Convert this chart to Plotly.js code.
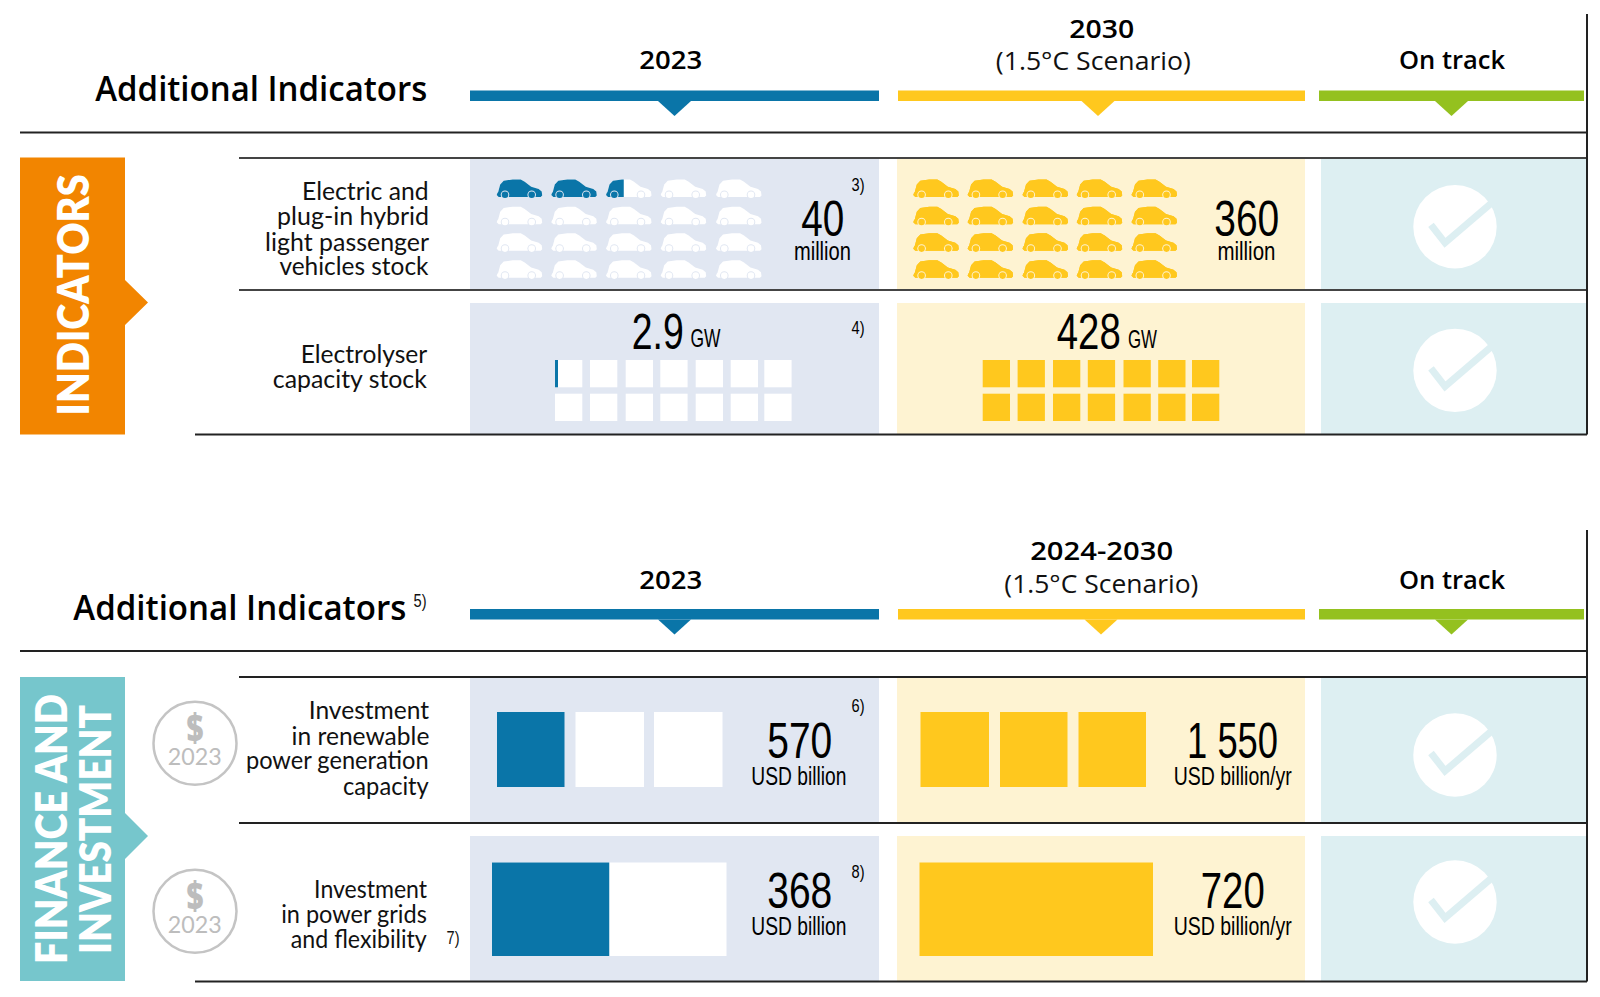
<!DOCTYPE html>
<html><head><meta charset="utf-8">
<script src="https://cdn.plot.ly/plotly-3.0.1.min.js"></script>
<style>html,body{margin:0;padding:0;background:#fff}#c{width:1600px;height:997px}</style>
</head><body><div id="c"></div>
<script>
// ---------- data ----------
const categories = ["Electric and plug-in hybrid light passenger vehicles stock","Electrolyser capacity stock","Investment in renewable power generation capacity","Investment in power grids and flexibility"];
const value2023 = ["40","2.9","570","368"];
const value2030 = ["360","428","1 550","720"];
const unit2023 = ["million","GW","USD billion","USD billion"];
const unit2030 = ["million","GW","USD billion/yr","USD billion/yr"];
const notes = ["3)","4)","6)","8)"];
const totalIcons = [20,14,3,1];        // icons per row
const filled2023 = [2.39,0.11,1,0.5];  // icons filled in the 2023 panel
const filled2030 = [20,14,3,1];        // icons filled in the 2030 panel

// ---------- styles / layout constants ----------
const BLUE='#0A75A8',YEL='#FFC81E',GRN='#94C11F',ORG='#F28500',TEALTAB='#76C6CC';
const PB='#E1E7F2',PY='#FEF3D2',PT='#DDEFF2',DK='#222222';
const SANS='"Open Sans", sans-serif', LAB='Lato, sans-serif', NAR='"Liberation Sans", sans-serif';
const shapes=[],ann=[],traces=[],widths=[];

function rect(x0,x1,y0,y1,c){shapes.push({type:'rect',xref:'x',yref:'y',x0,x1,y0,y1,fillcolor:c,line:{width:0},layer:'below'});}
function hline(x0,x1,y,c,w){shapes.push({type:'line',xref:'x',yref:'y',x0,x1,y0:y,y1:y,line:{color:c||DK,width:w||2}});}
function vline(x,y0,y1){shapes.push({type:'line',xref:'x',yref:'y',x0:x,x1:x,y0,y1,line:{color:DK,width:2}});}
function poly(p,c,layer){shapes.push({type:'path',xref:'x',yref:'y',path:'M'+p.map(q=>q[0].toFixed(2)+','+q[1].toFixed(2)).join('L')+'Z',fillcolor:c,line:{width:0},layer:layer||'above'});}
function circ(cx,cy,r,fill,lc,lw){shapes.push({type:'circle',xref:'x',yref:'y',x0:cx-r,x1:cx+r,y0:cy-r,y1:cy+r,fillcolor:fill,line:{color:lc||fill,width:lw||0}});}
// o.tw = measured text width in the picture
function txt(text,x,y,size,o){o=o||{};const a=o.a||'center';
  widths.push(o.tw||0);
  ann.push({text,x,y,xref:'x',yref:'y',showarrow:false,xanchor:a,align:a,yanchor:'middle',textangle:o.rot||0,borderpad:0,borderwidth:0,
  font:{family:o.f||LAB,size,color:o.c||'#111',weight:o.w||400}});}
function bars(list,color){ // list of [x0,x1,y0,y1]
  traces.push({type:'bar',orientation:'h',base:list.map(b=>b[0]),x:list.map(b=>b[1]-b[0]),y:list.map(b=>(b[2]+b[3])/2),width:list.map(b=>b[3]-b[2]),
    marker:{color,line:{width:0}},hoverinfo:'skip',showlegend:false});
}

// ---------- section frames ----------
const PANEL_B=[470,879],PANEL_Y=[897,1305],PANEL_T=[1321,1586];
const rowsY=[[158,289],[303,434],[677,822],[836,981]];
rowsY.forEach(r=>{rect(PANEL_B[0],PANEL_B[1],r[0],r[1],PB);rect(PANEL_Y[0],PANEL_Y[1],r[0],r[1],PY);rect(PANEL_T[0],PANEL_T[1],r[0],r[1],PT);});

function header(dy,ty){
  rect(470,879,90.5+dy,101+dy,BLUE);poly([[658,101+dy],[691,101+dy],[674.5,116+dy]],BLUE);
  rect(898,1305,90.5+dy,101+dy,YEL);poly([[ty-16.5,101+dy],[ty+16.5,101+dy],[ty,116+dy]],YEL);
  rect(1319,1584,90.5+dy,101+dy,GRN);poly([[1435,101+dy],[1468,101+dy],[1451.5,116+dy]],GRN);
}
header(0,1098);header(518.5,1101);
[[132.5,20],[158,239],[290,239],[434.5,195],[651,20],[677,239],[823,239],[981.5,195]].forEach(l=>hline(l[1],1587,l[0],l[0]==290||l[0]==158?'#444':DK));
vline(1587,14,434.5);vline(1587,530,981.5);

// side tabs
poly([[20,157.5],[125,157.5],[125,280],[148,302.5],[125,325],[125,434.5],[20,434.5]],ORG);
poly([[20,677],[125,677],[125,813],[148,836],[125,859],[125,981],[20,981]],TEALTAB);

// ---------- car pictogram ----------
const CAR=[[1.5,12.5],[3.5,5],[7,1.2],[16,0],[24,0],[28,2.2],[34.5,7.2],[42,9.5],[45,12],[45.5,16],[44,17.5],[2,17.5],[0,15.5],[0.7,13.5]];
const WHEELS=[8.3,35];
function clipX(pts,c){const out=[];for(let i=0;i<pts.length;i++){const a=pts[i],b=pts[(i+1)%pts.length];
  if(a[0]<=c)out.push(a);
  if((a[0]<=c)!==(b[0]<=c)){const t=(c-a[0])/(b[0]-a[0]);out.push([c,a[1]+t*(b[1]-a[1])]);}}return out;}
function car(x,y,base,over,frac,bg){
  const at=p=>[p[0]+x,p[1]+y];
  poly(CAR.map(at),base);
  if(frac>0){poly((frac>=1?CAR:clipX(CAR,45.5*frac)).map(at),over);}
  WHEELS.forEach(w=>{circ(x+w,y+15.3,4.3,bg);circ(x+w,y+15.3,3.3,w<=45.5*frac?over:base);});
}
const carRows=[179.5,206.7,233.3,260.3];
const carColsB=[496.7,551.3,606,660.7,716], carColsY=[913.3,967.6,1022.5,1076.7,1131.5];
function carGrid(cols,filled,over,base,bg){let k=0;carRows.forEach(y=>cols.forEach(x=>{car(x,y,base,over,Math.max(0,Math.min(1,filled-k)),bg);k++;}));}
carGrid(carColsB,filled2023[0],BLUE,'#FFFFFF',PB);
carGrid(carColsY,filled2030[0],YEL,YEL,PY);

// ---------- electrolyser squares ----------
const SQ=27.3, sqRows=[360,393.7];
const sqB=[555,590,625.7,660.3,695.7,730.7,764.3], sqY=[982.7,1017.6,1053,1087.8,1123.5,1158.2,1192];
function sqGrid(cols,filled,color){const whites=[],fills=[];let k=0;
  sqRows.forEach(y=>cols.forEach(x=>{const f=Math.max(0,Math.min(1,filled-k));
    if(f<1)whites.push([x,x+SQ,y,y+SQ]);
    if(f>0)fills.push([x,x+SQ*f,y,y+SQ]);k++;}));
  if(whites.length)bars(whites,'#FFFFFF');bars(fills,color);}
sqGrid(sqB,filled2023[1],BLUE);sqGrid(sqY,filled2030[1],YEL);

// ---------- investment blocks ----------
const blB=[[497,564.5],[575.5,644],[654,722.5]],blY=[[920.5,989],[1000,1067.5],[1078.5,1146]];
function blockRow(cols,filled,color){const whites=[],fills=[];cols.forEach((c,k)=>{const f=Math.max(0,Math.min(1,filled-k));
  if(f<1)whites.push([c[0],c[1],712,787]);if(f>0)fills.push([c[0],c[0]+(c[1]-c[0])*f,712,787]);});
  if(whites.length)bars(whites,'#FFFFFF');bars(fills,color);}
blockRow(blB,filled2023[2],BLUE);blockRow(blY,filled2030[2],YEL);

const gB=[492,726.5],gY=[919.5,1153];
bars([[gB[0],gB[1],862.5,956]],'#FFFFFF');
bars([[gB[0],gB[0]+(gB[1]-gB[0])*filled2023[3]/totalIcons[3],862.5,956]],BLUE);
bars([[gY[0],gY[0]+(gY[1]-gY[0])*filled2030[3]/totalIcons[3],862.5,956]],YEL);

// ---------- on-track ticks ----------
[226.8,370.4,755,902].forEach(cy=>{
  circ(1455,cy,41.7,'#FFFFFF');
  shapes.push({type:'path',xref:'x',yref:'y',path:`M1431,${cy-2}L1445,${cy+16}L1494,${cy-26}`,line:{color:PT,width:7},fillcolor:'rgba(0,0,0,0)'});
});

// ---------- badges ----------
[743.3,911.3].forEach(cy=>{
  circ(195,cy,41.5,'#FFFFFF','#C4C4C4',2.5);
  txt('$',194.5,cy-16,38,{c:'#BDBDBD',w:800,f:SANS,tw:17});
  txt('2023',194.5,cy+12.5,24,{c:'#BDBDBD',f:LAB,tw:54});
});

// ---------- header text ----------
const H=26,HW=600;
txt('Additional Indicators',427,88,34,{a:'right',f:SANS,w:600,c:'#000',tw:332});
txt('2023',670,59,H,{f:SANS,w:HW,c:'#000',tw:63});
txt('2030',1101,27.5,H,{f:SANS,w:HW,c:'#000',tw:65});
txt('(1.5°C Scenario)',1093,60,H,{f:SANS,c:'#111',tw:195});
txt('On track',1452,59,H,{f:SANS,w:HW,c:'#000',tw:106});
txt('Additional Indicators',405.5,607,34,{a:'right',f:SANS,w:600,c:'#000',tw:333});
txt('5)',419.5,601,18,{f:NAR,tw:13});
txt('2023',670,578.5,H,{f:SANS,w:HW,c:'#000',tw:63});
txt('2024-2030',1101,550,H,{f:SANS,w:HW,c:'#000',tw:143});
txt('(1.5°C Scenario)',1101,582.5,H,{f:SANS,c:'#111',tw:194});
txt('On track',1452,578.5,H,{f:SANS,w:HW,c:'#000',tw:106});

// side tab text
txt('INDICATORS',71,295.5,44,{rot:-90,c:'#FFF',w:800,f:LAB,tw:241});
txt('FINANCE AND',50,829,44,{rot:-90,c:'#FFF',w:800,f:LAB,tw:270});
txt('INVESTMENT',93.5,830,44,{rot:-90,c:'#FFF',w:800,f:LAB,tw:249});

// row labels
const labelLines=[["Electric and","plug-in hybrid","light passenger","vehicles stock"],["Electrolyser","capacity stock"],["Investment","in renewable","power generation","capacity"],["Investment","in power grids","and flexibility"]];
const labelW=[[126.5,152,164,149],[126.5,154],[120.4,137.8,182.7,85.7],[113,145.7,136]];
const labelRight=[428.5,426.5,428.5,426.5], labelY=[[190,215.5,241,265.5],[353.3,378],[709.3,735,759.3,785],[888,913,938]];
labelLines.forEach((ls,i)=>ls.forEach((l,j)=>txt(l,labelRight[i],labelY[i][j],24.5,{a:'right',f:LAB,c:'#111',tw:labelW[i][j]})));
txt('7)',452.5,938,18,{f:NAR,tw:13});

// ---------- values ----------
const bigPos=[[822.5,219],[657.5,331.5],[799,741],[799,891]], bigPosY=[[1246,219],[1088,331.5],[1232,741],[1232,891]];
const unitPos=[[822.5,251],[705,338],[799,776],[799,925.5]], unitPosY=[[1246,251],[1142,339],[1232,776],[1232,925.5]];
const notePos=[[857.5,185],[857.5,328],[857.5,706],[857.5,871.5]];
const BIG=50,UNIT=25;
const bigW=[43,52,65,65], bigWY=[65,64,91,64], unitW=[57,30,95,95], unitWY=[58,29,118,118];
value2023.forEach((v,i)=>txt(v,bigPos[i][0],bigPos[i][1],BIG,{f:NAR,c:'#000',tw:bigW[i]}));
value2030.forEach((v,i)=>txt(v,bigPosY[i][0],bigPosY[i][1],BIG,{f:NAR,c:'#000',tw:bigWY[i]}));
unit2023.forEach((v,i)=>txt(v,unitPos[i][0],unitPos[i][1],UNIT,{f:NAR,c:'#000',tw:unitW[i]}));
unit2030.forEach((v,i)=>txt(v,unitPosY[i][0],unitPosY[i][1],UNIT,{f:NAR,c:'#000',tw:unitWY[i]}));
notes.forEach((v,i)=>txt(v,notePos[i][0],notePos[i][1],18,{f:NAR,c:'#000',tw:13}));

Plotly.newPlot('c',traces,{
  width:1600,height:997,margin:{l:0,r:0,t:0,b:0,pad:0},paper_bgcolor:'#fff',plot_bgcolor:'#fff',
  barmode:'overlay',showlegend:false,
  xaxis:{range:[0,1600],visible:false,fixedrange:true},
  yaxis:{range:[997,0],visible:false,fixedrange:true},
  shapes,annotations:ann
},{displayModeBar:false,staticPlot:true}).then(gd=>{
  // fit each label to the width measured in the picture (condensed faces are not installed)
  gd.querySelectorAll('.annotation').forEach(g=>{
    const i=+g.getAttribute('data-index'),t=g.querySelector('text.annotation-text');
    if(t&&widths[i]){t.setAttribute('textLength',widths[i]);t.setAttribute('lengthAdjust','spacingAndGlyphs');}
  });
});
</script></body></html>
